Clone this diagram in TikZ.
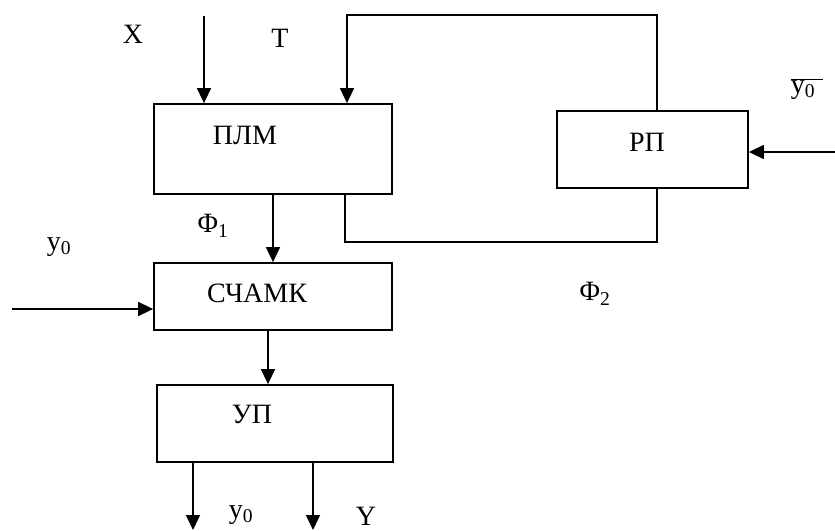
\documentclass[tikz,border=0pt]{standalone}
\usepackage{fontspec}
\setmainfont{Liberation Serif}
\usetikzlibrary{arrows.meta}
\tikzset{
  block/.style={draw, line width=1.8pt, inner sep=0pt},
  lbl/.style={font=\fontsize{28}{32}\selectfont, inner sep=0pt},
  pfeil/.style={line width=1.6pt, -{Triangle[length=15pt,width=14pt]}},
  linie/.style={line width=1.6pt}
}
\newcommand{\yn}{y\textsubscript{0}}
\begin{document}
\begin{tikzpicture}[x=1pt, y=-1pt]
        \useasboundingbox (0,0) rectangle (835,530);

        % zeichne Bloecke
        \node[block, minimum width=238pt, minimum height=90pt] (plm) at (273,149) {};
        \node[block, minimum width=191pt, minimum height=77pt] (rp) at (652.5,149.5) {};
        \node[block, minimum width=238pt, minimum height=67pt] (schamk) at (273,296.5) {};
        \node[block, minimum width=236pt, minimum height=77pt] (up) at (275,423.5) {};

        % zeichne Beschriftung der Bloecke
        \node[lbl] (plmtext) at (245,135) {ПЛМ};
        \node[lbl] (rptext) at (647,142) {РП};
        \node[lbl] (schamktext) at (257,293) {СЧАМК};
        \node[lbl] (uptext) at (252,414) {УП};

        % freie Enden
        \coordinate (xin) at (204,16);
        \coordinate (lin) at (12,309);
        \coordinate (rin) at (835,152);
        \coordinate (out1) at (193,530);
        \coordinate (out2) at (313,530);

        % zeichne Verbindungen
        \draw[pfeil] (xin) -- (xin |- plm.north);
        \draw[pfeil] ([xshift=4.5pt]rp.north) -- ++(0,-95) -| ([xshift=74pt]plm.north);
        \draw[linie] ([xshift=72pt]plm.south) -- ++(0,47) -| ([xshift=4.5pt]rp.south);
        \draw[pfeil] (plm.south) -- (schamk.north);
        \draw[pfeil] (lin) -- (lin -| schamk.west);
        \draw[pfeil] (rin) -- (rin -| rp.east);
        \draw[pfeil] ([xshift=-5pt]schamk.south) -- ([xshift=-5pt]schamk.south |- up.north);
        \draw[pfeil] (out1 |- up.south) -- (out1);
        \draw[pfeil] (out2 |- up.south) -- (out2);

        % zeichne Labels
        \node[lbl] (xlbl) at (133,34) {X};
        \node[lbl] (tlbl) at (280,38) {T};
        \node[lbl] (ynq) at (807,89) {$\overline{\hbox{\yn\hspace{8pt}}}$};
        \node[lbl] (phi1) at (213,226) {Φ\textsubscript{1}};
        \node[lbl] (yleft) at (59,247) {\yn};
        \node[lbl] (phi2) at (595,294) {Φ\textsubscript{2}};
        \node[lbl] (yout) at (241,515) {\yn};
        \node[lbl] (ylbl) at (366,516) {Y};
    \end{tikzpicture}
\end{document}
